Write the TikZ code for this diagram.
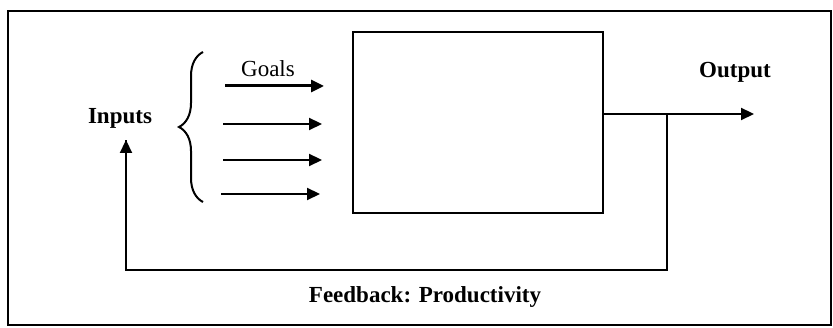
\documentclass[tikz,border=0pt]{standalone}
\usepackage{fontspec}
\setmainfont{Liberation Serif}
\usetikzlibrary{arrows.meta,decorations.pathreplacing}
\begin{document}
\begin{tikzpicture}[x=1pt,y=-1pt,
  line/.style={line width=2.2pt},
  arr/.style={line width=2.2pt,-{Triangle[length=13pt,width=12pt]}},
  lbl/.style={font=\fontsize{23}{26}\selectfont\bfseries,inner sep=0pt},
  lblr/.style={font=\fontsize{23}{26}\selectfont,inner sep=0pt}]
\useasboundingbox (0,0) rectangle (833,328);
\fill[white] (0,0) rectangle (833,328);
\draw[line width=2.4pt] (8,11) rectangle (831,325);
\node[draw,line width=2.4pt,minimum width=250pt,minimum height=181pt,inner sep=0pt,anchor=north west] (box) at (352,31) {};
% output
\coordinate (outend) at (754,114);
\coordinate (fbtop) at (667,114);
\coordinate (fbbr) at (667,270);
\coordinate (fbbl) at (126,270);
\coordinate (inend) at (126,140);
\draw[arr] (box.east |- outend) -- (outend);
\draw[line] (fbtop) -- (fbbr) -- (fbbl) -- (inend);
\draw[arr] (fbbl) -- (inend);
% labels
\node[lbl] (inputs) at (120,118) {Inputs};
\node[lbl] (output) at (735,72) {Output};
\node[lbl] (fb) at (425,297) {Feedback: Productivity};
\node[lblr] (goals) at (268,69) {Goals};
% brace
\coordinate (bb) at (203,202);
\coordinate (bt) at (203,52);
\draw[line width=2pt,decorate,decoration={brace,amplitude=24pt,aspect=0.5}] (bb) -- (bt);
% input arrows
\coordinate (g1s) at (225,86); \coordinate (g1e) at (324,86);
\coordinate (g2s) at (223,124); \coordinate (g2e) at (322,124);
\coordinate (g3s) at (223,160); \coordinate (g3e) at (322,160);
\coordinate (g4s) at (221,194); \coordinate (g4e) at (320,194);
\draw[arr,line width=3pt] (g1s) -- (g1e);
\draw[arr] (g2s) -- (g2e);
\draw[arr] (g3s) -- (g3e);
\draw[arr] (g4s) -- (g4e);
\end{tikzpicture}
\end{document}
